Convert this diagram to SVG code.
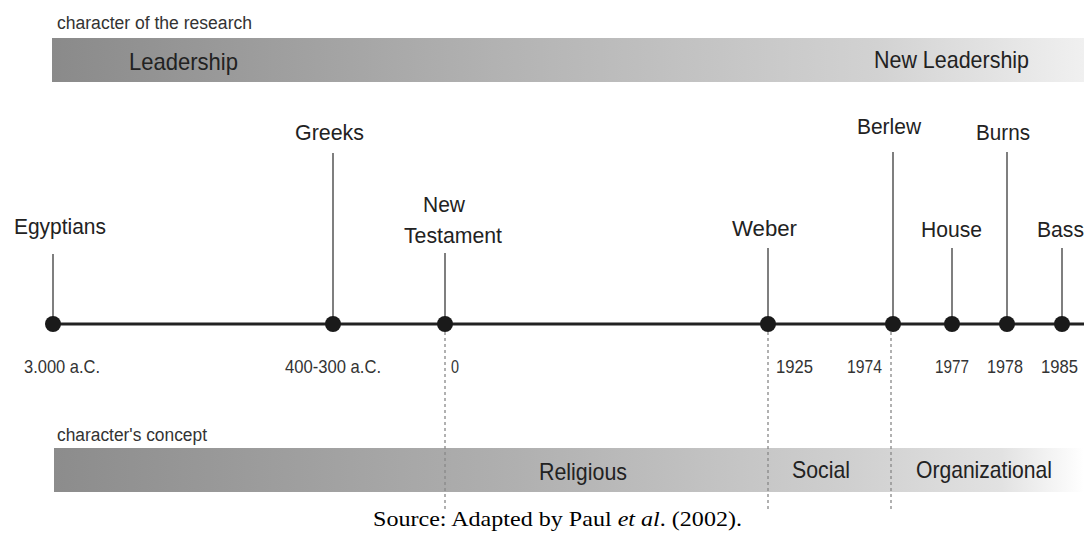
<svg xmlns="http://www.w3.org/2000/svg" width="1084" height="542" viewBox="0 0 1084 542">
  <defs>
    <linearGradient id="gTop" x1="52" y1="0" x2="1084" y2="0" gradientUnits="userSpaceOnUse">
      <stop offset="0" stop-color="#8a8a8a"/>
      <stop offset="0.45" stop-color="#b4b4b4"/>
      <stop offset="0.8" stop-color="#d2d2d2"/>
      <stop offset="1" stop-color="#f0f0f0"/>
    </linearGradient>
    <linearGradient id="gBot" x1="54" y1="0" x2="1084" y2="0" gradientUnits="userSpaceOnUse">
      <stop offset="0" stop-color="#8c8c8c"/>
      <stop offset="0.45" stop-color="#b0b0b0"/>
      <stop offset="0.78" stop-color="#d0d0d0"/>
      <stop offset="0.92" stop-color="#e2e2e2"/>
      <stop offset="1" stop-color="#ffffff"/>
    </linearGradient>
  </defs>
  <style>
    .t { font-family: "Liberation Sans", Arial, sans-serif; fill: #222; }
    .cap { font-size: 18px; fill: #333; }
    .bar { font-size: 24px; }
    .ev { font-size: 22px; }
    .yr { font-size: 19px; fill: #333; }
    .stem { stroke: #555; stroke-width: 1.5; fill: none; }
    .dot { fill: #1a1a1a; }
    .dash { stroke: #888; stroke-width: 1.3; stroke-dasharray: 3 3; fill: none; }
    .src { font-family: "Liberation Serif", "Times New Roman", serif; font-size: 22px; fill: #000; }
  </style>
  <rect width="1084" height="542" fill="#ffffff"/>

  <g id="research-band">
    <text class="t cap" x="57" y="29" textLength="195" lengthAdjust="spacingAndGlyphs">character of the research</text>
    <rect x="52" y="38" width="1032" height="44" fill="url(#gTop)"/>
    <text class="t bar" x="129" y="70" textLength="109" lengthAdjust="spacingAndGlyphs">Leadership</text>
    <text class="t bar" x="874" y="68" textLength="155" lengthAdjust="spacingAndGlyphs">New Leadership</text>
  </g>

  <g id="concept-band">
    <text class="t cap" x="57" y="441" textLength="150" lengthAdjust="spacingAndGlyphs">character's concept</text>
    <rect x="54" y="448" width="1030" height="44" fill="url(#gBot)"/>
    <text class="t bar" x="539" y="480" textLength="88" lengthAdjust="spacingAndGlyphs">Religious</text>
    <text class="t bar" x="792" y="478" textLength="58" lengthAdjust="spacingAndGlyphs">Social</text>
    <text class="t bar" x="916" y="478" textLength="136" lengthAdjust="spacingAndGlyphs">Organizational</text>
  </g>

  <g id="connectors">
    <line x1="53" y1="324" x2="1084" y2="324" stroke="#222" stroke-width="3"/>
    <line class="dash" x1="445" y1="332" x2="445" y2="512"/>
    <line class="dash" x1="768" y1="332" x2="768" y2="512"/>
    <line class="dash" x1="891" y1="332" x2="891" y2="512"/>
  </g>

  <g id="egyptians">
    <line class="stem" x1="53" y1="254" x2="53" y2="324"/>
    <circle class="dot" cx="53" cy="324" r="8"/>
    <text class="t ev" x="14" y="234" textLength="92" lengthAdjust="spacingAndGlyphs">Egyptians</text>
    <text class="t yr" x="24" y="373" textLength="76" lengthAdjust="spacingAndGlyphs">3.000 a.C.</text>
  </g>
  <g id="greeks">
    <line class="stem" x1="333" y1="153" x2="333" y2="324"/>
    <circle class="dot" cx="333" cy="324" r="8"/>
    <text class="t ev" x="295" y="140" textLength="69" lengthAdjust="spacingAndGlyphs">Greeks</text>
    <text class="t yr" x="285" y="373" textLength="96" lengthAdjust="spacingAndGlyphs">400-300 a.C.</text>
  </g>
  <g id="new-testament">
    <line class="stem" x1="445" y1="253" x2="445" y2="324"/>
    <circle class="dot" cx="445" cy="324" r="8"/>
    <text class="t ev" x="423" y="212" textLength="42" lengthAdjust="spacingAndGlyphs">New</text>
    <text class="t ev" x="404" y="243" textLength="98" lengthAdjust="spacingAndGlyphs">Testament</text>
    <text class="t yr" x="451" y="373" textLength="8" lengthAdjust="spacingAndGlyphs">0</text>
  </g>
  <g id="weber">
    <line class="stem" x1="768" y1="248" x2="768" y2="324"/>
    <circle class="dot" cx="768" cy="324" r="8"/>
    <text class="t ev" x="732" y="236" textLength="65" lengthAdjust="spacingAndGlyphs">Weber</text>
    <text class="t yr" x="776" y="373" textLength="37" lengthAdjust="spacingAndGlyphs">1925</text>
  </g>
  <g id="berlew">
    <line class="stem" x1="893" y1="152" x2="893" y2="324"/>
    <circle class="dot" cx="893" cy="324" r="8"/>
    <text class="t ev" x="857" y="134" textLength="64" lengthAdjust="spacingAndGlyphs">Berlew</text>
    <text class="t yr" x="847" y="373" textLength="35" lengthAdjust="spacingAndGlyphs">1974</text>
  </g>
  <g id="house">
    <line class="stem" x1="952" y1="248" x2="952" y2="324"/>
    <circle class="dot" cx="952" cy="324" r="8"/>
    <text class="t ev" x="921" y="237" textLength="61" lengthAdjust="spacingAndGlyphs">House</text>
    <text class="t yr" x="935" y="373" textLength="34" lengthAdjust="spacingAndGlyphs">1977</text>
  </g>
  <g id="burns">
    <line class="stem" x1="1007" y1="152" x2="1007" y2="324"/>
    <circle class="dot" cx="1007" cy="324" r="8"/>
    <text class="t ev" x="976" y="140" textLength="54" lengthAdjust="spacingAndGlyphs">Burns</text>
    <text class="t yr" x="987" y="373" textLength="36" lengthAdjust="spacingAndGlyphs">1978</text>
  </g>
  <g id="bass">
    <line class="stem" x1="1062" y1="248" x2="1062" y2="324"/>
    <circle class="dot" cx="1062" cy="324" r="8"/>
    <text class="t ev" x="1037" y="237" textLength="47" lengthAdjust="spacingAndGlyphs">Bass</text>
    <text class="t yr" x="1041" y="373" textLength="37" lengthAdjust="spacingAndGlyphs">1985</text>
  </g>

  <text class="src" x="373" y="526" textLength="369" lengthAdjust="spacingAndGlyphs">Source: Adapted by Paul <tspan font-style="italic">et al</tspan>. (2002).</text>
</svg>
